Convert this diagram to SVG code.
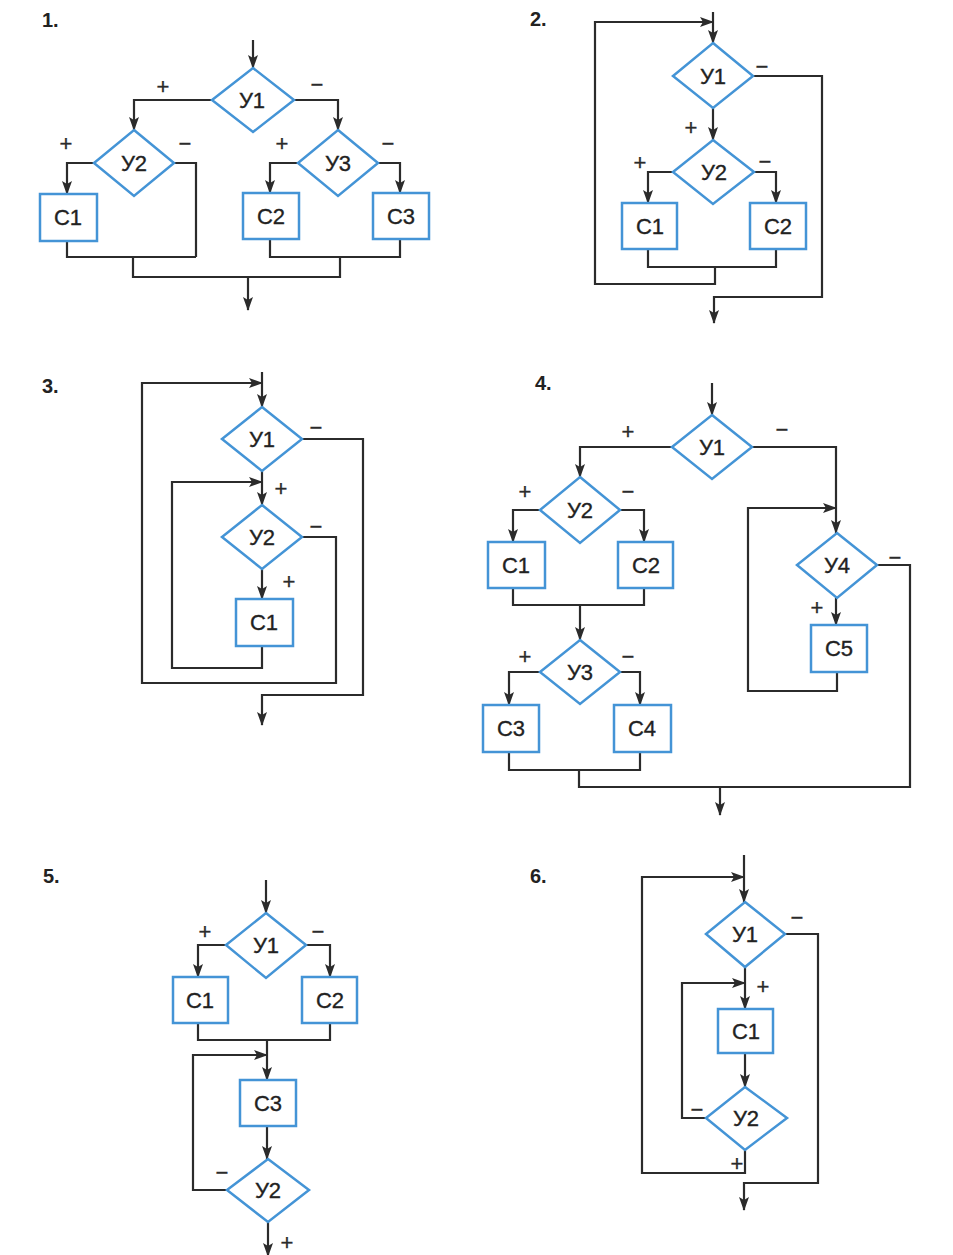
<svg xmlns="http://www.w3.org/2000/svg" width="953" height="1255" viewBox="0 0 953 1255">
<style>
.n{fill:#fff;stroke:#4494d6;stroke-width:2.5}
.c{fill:none;stroke:#2b2b2b;stroke-width:2.2}
.a{marker-end:url(#ah)}
.t{font-family:"Liberation Sans",Arial,sans-serif;font-size:22px;fill:#222;stroke:#222;stroke-width:0.35;text-anchor:middle}
.s{font-family:"Liberation Sans",Arial,sans-serif;font-size:22px;fill:#2b2b2b;stroke:#2b2b2b;stroke-width:0.3;text-anchor:middle}
.h{font-family:"Liberation Sans",Arial,sans-serif;font-size:20px;fill:#222;font-weight:bold}
</style>
<defs>
<marker id="ah" markerUnits="userSpaceOnUse" markerWidth="14" markerHeight="10" refX="13" refY="5" orient="auto" viewBox="0 0 14 10">
<path d="M0,0 L14,5 L0,10 L3,5 Z" fill="#2b2b2b"/>
</marker>
</defs>
<rect width="953" height="1255" fill="#fff"/>

<g id="titles">
<text class="h" x="42" y="27">1.</text>
<text class="h" x="530" y="26">2.</text>
<text class="h" x="42" y="393">3.</text>
<text class="h" x="535" y="390">4.</text>
<text class="h" x="43" y="883">5.</text>
<text class="h" x="530" y="883">6.</text>
</g>

<g id="connectors">
<!-- diagram 1 -->
<path class="c a" d="M253,40 V68"/>
<path class="c a" d="M212,100 H134 V130"/>
<path class="c a" d="M294,100 H338 V130"/>
<path class="c a" d="M94,163 H67 V194"/>
<path class="c" d="M174,163 H196 V257"/>
<path class="c" d="M67,241 V257 H196"/>
<path class="c" d="M133,257 V277 H340 V257"/>
<path class="c a" d="M298,163 H270 V193"/>
<path class="c a" d="M378,163 H400 V193"/>
<path class="c" d="M270,239 V257 H400 V239"/>
<path class="c a" d="M248,277 V310"/>
<text class="s" x="163" y="94">+</text>
<text class="s" x="317" y="92">−</text>
<text class="s" x="66" y="151">+</text>
<text class="s" x="185" y="151">−</text>
<text class="s" x="282" y="151">+</text>
<text class="s" x="388" y="151">−</text>

<!-- diagram 2 -->
<path class="c a" d="M713,12 V43"/>
<path class="c a" d="M713,108 V140"/>
<path class="c a" d="M673,172 H648 V203"/>
<path class="c a" d="M754,172 H776 V203"/>
<path class="c" d="M648,249 V267 H776 V249"/>
<path class="c a" d="M715,267 V284 H595 V22 H713"/>
<path class="c a" d="M753,76 H822 V297 H714 V323"/>
<text class="s" x="762" y="74">−</text>
<text class="s" x="691" y="135">+</text>
<text class="s" x="640" y="170">+</text>
<text class="s" x="765" y="169">−</text>

<!-- diagram 3 -->
<path class="c a" d="M262,372 V407"/>
<path class="c a" d="M262,471 V505"/>
<path class="c a" d="M262,569 V599"/>
<path class="c a" d="M302,537 H336 V683 H142 V383 H262"/>
<path class="c a" d="M262,646 V668 H172 V482 H262"/>
<path class="c a" d="M302,439 H363 V695 H262 V725"/>
<text class="s" x="316" y="435">−</text>
<text class="s" x="281" y="496">+</text>
<text class="s" x="316" y="534">−</text>
<text class="s" x="289" y="589">+</text>

<!-- diagram 4 -->
<path class="c a" d="M712,383 V415"/>
<path class="c a" d="M672,447 H580 V477"/>
<path class="c a" d="M540,510 H513 V542"/>
<path class="c a" d="M620,510 H644 V542"/>
<path class="c" d="M513,588 V605 H644 V588"/>
<path class="c a" d="M580,605 V640"/>
<path class="c a" d="M540,672 H509 V705"/>
<path class="c a" d="M620,672 H640 V705"/>
<path class="c" d="M509,752 V770 H640 V752"/>
<path class="c" d="M579,770 V787 H910 V565 H877"/>
<path class="c a" d="M720,787 V815"/>
<path class="c a" d="M752,447 H836 V533"/>
<path class="c a" d="M836,598 V625"/>
<path class="c a" d="M837,672 V691 H748 V508 H836"/>
<text class="s" x="628" y="439">+</text>
<text class="s" x="782" y="437">−</text>
<text class="s" x="525" y="499">+</text>
<text class="s" x="628" y="499">−</text>
<text class="s" x="525" y="664">+</text>
<text class="s" x="628" y="664">−</text>
<text class="s" x="895" y="565">−</text>
<text class="s" x="817" y="615">+</text>

<!-- diagram 5 -->
<path class="c a" d="M266,880 V913"/>
<path class="c a" d="M226,945 H198 V977"/>
<path class="c a" d="M306,945 H330 V977"/>
<path class="c" d="M198,1023 V1040 H330 V1023"/>
<path class="c a" d="M267,1040 V1080"/>
<path class="c a" d="M267,1126 V1159"/>
<path class="c a" d="M227,1190 H193 V1055 H267"/>
<path class="c a" d="M268,1222 V1256"/>
<text class="s" x="205" y="939">+</text>
<text class="s" x="318" y="939">−</text>
<text class="s" x="222" y="1180">−</text>
<text class="s" x="287" y="1250">+</text>

<!-- diagram 6 -->
<path class="c a" d="M744,855 V902"/>
<path class="c a" d="M745,967 V1009"/>
<path class="c a" d="M745,1053 V1087"/>
<path class="c a" d="M706,1118 H682 V983 H745"/>
<path class="c a" d="M745,1150 V1173 H642 V877 H744"/>
<path class="c a" d="M785,934 H818 V1183 H744 V1210"/>
<text class="s" x="797" y="925">−</text>
<text class="s" x="763" y="994">+</text>
<text class="s" x="697" y="1117">−</text>
<text class="s" x="737" y="1171">+</text>
</g>

<!-- diagram 1 nodes -->
<g id="d1-y1"><polygon class="n" points="253,68 294,100 253,132 212,100"/><text class="t" x="252" y="108">У1</text></g>
<g id="d1-y2"><polygon class="n" points="134,130 174,163 134,196 94,163"/><text class="t" x="134" y="171">У2</text></g>
<g id="d1-y3"><polygon class="n" points="338,130 378,163 338,196 298,163"/><text class="t" x="338" y="171">У3</text></g>
<g id="d1-c1"><rect class="n" x="40" y="194" width="57" height="47"/><text class="t" x="68" y="225">C1</text></g>
<g id="d1-c2"><rect class="n" x="243" y="193" width="56" height="46"/><text class="t" x="271" y="224">C2</text></g>
<g id="d1-c3"><rect class="n" x="373" y="193" width="56" height="46"/><text class="t" x="401" y="224">C3</text></g>

<!-- diagram 2 nodes -->
<g id="d2-y1"><polygon class="n" points="713,43 753,76 713,108 673,76"/><text class="t" x="713" y="84">У1</text></g>
<g id="d2-y2"><polygon class="n" points="713,140 754,172 713,204 673,172"/><text class="t" x="714" y="180">У2</text></g>
<g id="d2-c1"><rect class="n" x="622" y="203" width="55" height="46"/><text class="t" x="650" y="234">C1</text></g>
<g id="d2-c2"><rect class="n" x="750" y="203" width="56" height="46"/><text class="t" x="778" y="234">C2</text></g>

<!-- diagram 3 nodes -->
<g id="d3-y1"><polygon class="n" points="262,407 302,439 262,471 222,439"/><text class="t" x="262" y="447">У1</text></g>
<g id="d3-y2"><polygon class="n" points="262,505 302,537 262,569 222,537"/><text class="t" x="262" y="545">У2</text></g>
<g id="d3-c1"><rect class="n" x="236" y="599" width="57" height="47"/><text class="t" x="264" y="630">C1</text></g>

<!-- diagram 4 nodes -->
<g id="d4-y1"><polygon class="n" points="712,415 752,447 712,479 672,447"/><text class="t" x="712" y="455">У1</text></g>
<g id="d4-y2"><polygon class="n" points="580,477 620,510 580,543 540,510"/><text class="t" x="580" y="518">У2</text></g>
<g id="d4-y3"><polygon class="n" points="580,640 620,672 580,704 540,672"/><text class="t" x="580" y="680">У3</text></g>
<g id="d4-y4"><polygon class="n" points="837,533 877,565 837,598 797,565"/><text class="t" x="837" y="573">У4</text></g>
<g id="d4-c1"><rect class="n" x="488" y="542" width="57" height="46"/><text class="t" x="516" y="573">C1</text></g>
<g id="d4-c2"><rect class="n" x="618" y="542" width="55" height="46"/><text class="t" x="646" y="573">C2</text></g>
<g id="d4-c3"><rect class="n" x="483" y="705" width="56" height="47"/><text class="t" x="511" y="736">C3</text></g>
<g id="d4-c4"><rect class="n" x="614" y="705" width="57" height="47"/><text class="t" x="642" y="736">C4</text></g>
<g id="d4-c5"><rect class="n" x="811" y="625" width="56" height="47"/><text class="t" x="839" y="656">C5</text></g>

<!-- diagram 5 nodes -->
<g id="d5-y1"><polygon class="n" points="266,913 306,945 266,978 226,945"/><text class="t" x="266" y="953">У1</text></g>
<g id="d5-c1"><rect class="n" x="173" y="977" width="55" height="46"/><text class="t" x="200" y="1008">C1</text></g>
<g id="d5-c2"><rect class="n" x="302" y="977" width="55" height="46"/><text class="t" x="330" y="1008">C2</text></g>
<g id="d5-c3"><rect class="n" x="240" y="1080" width="56" height="46"/><text class="t" x="268" y="1111">C3</text></g>
<g id="d5-y2"><polygon class="n" points="268,1159 309,1190 268,1222 227,1190"/><text class="t" x="268" y="1198">У2</text></g>

<!-- diagram 6 nodes -->
<g id="d6-y1"><polygon class="n" points="745,902 785,934 745,967 706,934"/><text class="t" x="745" y="942">У1</text></g>
<g id="d6-c1"><rect class="n" x="718" y="1009" width="55" height="44"/><text class="t" x="746" y="1039">C1</text></g>
<g id="d6-y2"><polygon class="n" points="745,1087 787,1118 745,1150 706,1118"/><text class="t" x="746" y="1126">У2</text></g>
</svg>
